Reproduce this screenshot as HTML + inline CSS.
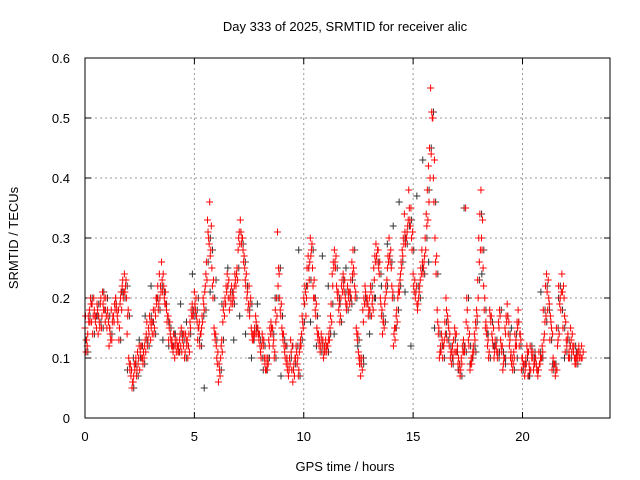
<!DOCTYPE html>
<html><head><meta charset="utf-8"><style>
body{margin:0;background:#fff;}
svg{display:block;font-family:"Liberation Sans",sans-serif;}
</style></head><body>
<svg id="chart" width="640" height="480">
<rect width="640" height="480" fill="#fff"/>
<text x="345" y="31" font-size="13" text-anchor="middle">Day 333 of 2025, SRMTID for receiver alic</text>
<text x="345" y="471" font-size="13" text-anchor="middle">GPS time / hours</text>
<text transform="translate(18,238) rotate(-90)" font-size="13" text-anchor="middle">SRMTID / TECUs</text>
<g id="grid"></g><g id="marks"></g>
<rect x="85" y="58" width="525" height="360" fill="none" stroke="#000"/>
</svg>
<script>
const xTicks=[0,5,10,15,20];
const yTicks=[0,0.1,0.2,0.3,0.4,0.5,0.6];
const yTickLabels=["0","0.1","0.2","0.3","0.4","0.5","0.6"];
const redA=[0.15,0.12,0.18,0.16,0.2,0.17,0.14,0.19,0.21,0.18,0.15,0.12,0.18,0.17,0.2,0.16,0.19,0.22,0.24,0.2,0.1,0.07,0.06,0.09,0.11,0.08,0.12,0.1,0.14,0.15,0.13,0.16,0.18,0.2,0.24,0.26,0.22,0.19,0.17,0.14,0.12,0.1,0.13,0.11,0.15,0.12,0.14,0.1,0.16,0.19,0.21,0.17,0.15,0.14,0.2,0.22,0.33,0.36,0.25,0.15,0.12,0.06,0.1,0.16,0.2,0.24,0.18,0.22,0.2,0.22,0.28,0.33,0.3,0.25,0.2,0.22,0.15,0.13,0.17,0.15,0.12,0.14,0.1,0.08,0.13,0.16,0.12,0.18,0.31,0.2,0.15,0.12,0.09,0.07,0.13,0.06,0.1,0.09,0.11,0.14,0.2,0.17,0.27,0.3,0.25,0.2,0.15,0.12,0.14,0.1,0.13,0.12,0.15,0.24,0.28,0.22,0.18,0.2,0.24,0.2,0.22,0.19,0.26,0.24,0.15,0.11,0.07,0.18,0.22,0.2,0.2,0.17,0.25,0.29,0.28,0.2,0.14,0.19,0.23,0.3,0.25,0.12,0.15,0.2,0.23,0.28,0.34,0.3,0.38,0.35,0.24,0.2,0.18,0.22,0.28,0.26,0.34,0.42,0.55,0.5,0.3,0.18,0.1,0.14,0.12,0.2,0.16,0.1,0.12,0.15,0.11,0.08,0.1,0.13,0.35,0.15,0.08,0.1,0.14,0.18,0.3,0.38,0.25,0.15,0.12,0.18,0.14,0.1,0.12,0.16,0.13,0.08,0.15,0.19,0.12,0.09,0.11,0.13,0.18,0.14,0.1,0.07,0.12,0.09,0.11,0.08,0.1,0.07,0.09,0.12,0.14,0.24,0.2,0.16,0.1,0.07,0.12,0.19,0.24,0.2,0.13,0.1,0.15,0.12,0.09,0.11,0.1,0.12];
const redB=[0.11,0.17,0.2,0.14,0.17,0.19,0.16,0.15,0.18,0.2,0.17,0.14,0.16,0.19,0.18,0.13,0.21,0.2,0.22,0.17,0.08,0.05,0.09,0.07,0.1,0.12,0.09,0.13,0.12,0.17,0.16,0.14,0.2,0.18,0.22,0.21,0.19,0.16,0.15,0.12,0.14,0.12,0.11,0.14,0.13,0.1,0.12,0.14,0.18,0.17,0.18,0.13,0.12,0.17,0.18,0.26,0.3,0.28,0.2,0.13,0.09,0.08,0.13,0.19,0.22,0.2,0.21,0.19,0.24,0.25,0.31,0.29,0.26,0.22,0.18,0.19,0.13,0.15,0.14,0.13,0.1,0.12,0.08,0.1,0.15,0.14,0.1,0.2,0.25,0.17,0.13,0.1,0.08,0.1,0.08,0.09,0.12,0.07,0.13,0.16,0.22,0.25,0.23,0.28,0.2,0.17,0.13,0.11,0.12,0.12,0.11,0.14,0.19,0.26,0.25,0.2,0.16,0.23,0.21,0.18,0.2,0.23,0.28,0.2,0.13,0.09,0.1,0.2,0.19,0.17,0.22,0.2,0.27,0.26,0.24,0.17,0.16,0.22,0.27,0.26,0.2,0.15,0.18,0.22,0.26,0.3,0.29,0.32,0.33,0.28,0.21,0.22,0.2,0.25,0.24,0.3,0.38,0.45,0.51,0.36,0.24,0.14,0.12,0.1,0.16,0.13,0.12,0.09,0.13,0.11,0.09,0.07,0.12,0.11,0.2,0.12,0.1,0.12,0.16,0.23,0.34,0.28,0.18,0.14,0.1,0.16,0.12,0.13,0.1,0.18,0.11,0.1,0.17,0.14,0.1,0.08,0.14,0.16,0.12,0.08,0.09,0.1,0.07,0.12,0.1,0.09,0.08,0.11,0.1,0.18,0.22,0.18,0.13,0.08,0.09,0.15,0.22,0.18,0.15,0.11,0.13,0.1,0.11,0.12,0.09,0.11];
const redC=[0.17,0.14,0.16,0.19,0.18,0.15,0.17,0.2,0.19,0.16,0.18,0.15,0.13,0.16,0.19,0.18,0.2,0.23,0.21,0.14,0.09,0.08,0.07,0.1,0.09,0.11,0.1,0.12,0.16,0.14,0.15,0.18,0.17,0.22,0.2,0.23,0.2,0.18,0.13,0.13,0.11,0.13,0.12,0.13,0.11,0.14,0.13,0.12,0.15,0.17,0.19,0.16,0.16,0.15,0.19,0.24,0.31,0.27,0.22,0.14,0.1,0.09,0.12,0.18,0.19,0.22,0.2,0.2,0.22,0.24,0.3,0.31,0.28,0.23,0.21,0.17,0.14,0.14,0.16,0.14,0.11,0.13,0.09,0.09,0.12,0.15,0.13,0.16,0.22,0.18,0.14,0.11,0.1,0.08,0.11,0.08,0.1,0.1,0.12,0.17,0.19,0.2,0.25,0.27,0.22,0.18,0.14,0.13,0.13,0.11,0.12,0.13,0.17,0.22,0.26,0.21,0.19,0.22,0.22,0.19,0.21,0.21,0.24,0.22,0.14,0.1,0.09,0.16,0.21,0.19,0.18,0.19,0.23,0.27,0.25,0.19,0.16,0.2,0.25,0.27,0.22,0.14,0.17,0.21,0.24,0.27,0.31,0.31,0.35,0.3,0.22,0.21,0.19,0.23,0.26,0.27,0.32,0.36,0.44,0.4,0.26,0.16,0.11,0.13,0.13,0.18,0.15,0.11,0.1,0.14,0.12,0.09,0.09,0.11,0.16,0.13,0.09,0.11,0.13,0.17,0.26,0.3,0.22,0.16,0.13,0.17,0.13,0.11,0.11,0.15,0.12,0.09,0.14,0.17,0.13,0.1,0.1,0.12,0.16,0.13,0.09,0.08,0.11,0.08,0.1,0.09,0.09,0.08,0.1,0.11,0.16,0.21,0.19,0.15,0.09,0.08,0.13,0.2,0.21,0.17,0.12,0.11,0.13,0.11,0.1,0.1,0.11,0.1];
const redD=[0.13,0.16,0.19,0.17,0.16,0.18,0.15,0.17,0.2,0.17,0.16,0.13,0.17,0.18,0.17,0.15,0.18,0.21,0.23,0.18,0.09,0.06,0.08,0.08,0.12,0.1,0.11,0.11,0.13,0.16,0.14,0.15,0.19,0.19,0.21,0.24,0.21,0.17,0.16,0.13,0.12,0.11,0.12,0.12,0.14,0.11,0.13,0.11,0.17,0.18,0.2,0.15,0.14,0.16,0.21,0.23,0.29,0.32,0.23,0.14,0.11,0.07,0.11,0.17,0.21,0.23,0.19,0.21,0.23,0.23,0.29,0.3,0.27,0.24,0.19,0.2,0.14,0.14,0.15,0.14,0.12,0.13,0.1,0.09,0.14,0.15,0.11,0.17,0.24,0.19,0.14,0.12,0.09,0.09,0.12,0.07,0.11,0.08,0.12,0.15,0.21,0.22,0.26,0.29,0.23,0.19,0.14,0.12,0.13,0.11,0.12,0.13,0.16,0.25,0.27,0.21,0.17,0.21,0.23,0.19,0.21,0.2,0.25,0.21,0.14,0.1,0.08,0.19,0.2,0.18,0.21,0.18,0.26,0.28,0.26,0.18,0.15,0.21,0.26,0.28,0.21,0.13,0.16,0.21,0.25,0.29,0.3,0.33,0.32,0.31,0.23,0.19,0.21,0.24,0.25,0.28,0.33,0.4,0.5,0.43,0.27,0.15,0.11,0.12,0.14,0.17,0.14,0.11,0.11,0.14,0.1,0.08,0.11,0.12,0.18,0.14,0.09,0.11,0.15,0.2,0.28,0.33,0.2,0.15,0.11,0.17,0.15,0.12,0.11,0.17,0.12,0.1,0.16,0.16,0.11,0.09,0.12,0.15,0.14,0.1,0.09,0.09,0.11,0.08,0.11,0.1,0.08,0.09,0.1,0.13,0.17,0.23,0.17,0.14,0.09,0.08,0.14,0.21,0.22,0.16,0.14,0.12,0.14,0.1,0.1,0.12,0.1,0.11];
const blackV=[0.13,0.19,0.17,0.21,0.15,0.2,0.21,0.08,0.1,0.13,0.17,0.22,0.2,0.13,0.12,0.14,0.19,0.16,0.24,0.2,0.05,0.21,0.23,0.19,0.25,0.13,0.17,0.14,0.1,0.19,0.08,0.1,0.2,0.07,0.12,0.12,0.28,0.19,0.16,0.12,0.27,0.22,0.14,0.19,0.25,0.19,0.12,0.09,0.14,0.2,0.22,0.29,0.32,0.36,0.21,0.12,0.37,0.43,0.26,0.15,0.11,0.14,0.1,0.08,0.35,0.09,0.11,0.24,0.14,0.12,0.11,0.09,0.15,0.1,0.08,0.07,0.11,0.21,0.16,0.09,0.2,0.1,0.12,0.11];
const xScale=h=>85+h*(525/24);
const yScale=v=>418-v*600;
const NS="http://www.w3.org/2000/svg";
const grid=document.getElementById('grid'),marks=document.getElementById('marks');
function ln(p,x1,y1,x2,y2,st,dash){const l=document.createElementNS(NS,'line');l.setAttribute('x1',x1);l.setAttribute('y1',y1);l.setAttribute('x2',x2);l.setAttribute('y2',y2);l.setAttribute('stroke',st);if(dash)l.setAttribute('stroke-dasharray',dash);p.appendChild(l);return l;}
function tx(x,y,s,anchor){const t=document.createElementNS(NS,'text');t.setAttribute('x',x);t.setAttribute('y',y);t.setAttribute('font-size','13');t.setAttribute('text-anchor',anchor);t.textContent=s;grid.appendChild(t);return t;}
xTicks.forEach(v=>{const x=xScale(v);
 const g=ln(grid,x,58,x,418,'#999','2,3');
 
 
 ln(grid,x,418,x,412,'#000');ln(grid,x,58,x,64,'#000');
 const t=tx(x,441,String(v),'middle');
 
 });
yTicks.forEach((v,i)=>{const y=yScale(v);
 const g=ln(grid,85,y,610,y,'#999','2,3');
 
 
 ln(grid,85,y,91,y,'#000');ln(grid,610,y,604,y,'#000');
 const t=tx(70,y+5,yTickLabels[i],'end');
 
 });
function plus(h,v,col,name){const x=xScale(h),y=yScale(v);
 const p=document.createElementNS(NS,'path');
 p.setAttribute('d',`M${x-3.5},${y}h7M${x},${y-3.5}v7`);
 p.setAttribute('stroke',col);p.setAttribute('fill','none');
 
 
 marks.appendChild(p);}
blackV.forEach((v,i)=>plus(i*0.27+0.05,v,'#333','black-point'));
redB.forEach((v,i)=>plus(i*0.1+0.13,v,'#333','black-point'));
redA.forEach((v,i)=>plus(i*0.1,v,'#f00','red-point'));
redB.forEach((v,i)=>plus(i*0.1+0.05,v,'#f00','red-point'));
redC.forEach((v,i)=>plus(i*0.1+0.025,v,'#f00','red-point'));
redD.forEach((v,i)=>plus(i*0.1+0.075,v,'#f00','red-point'));
</script>
</body></html>
